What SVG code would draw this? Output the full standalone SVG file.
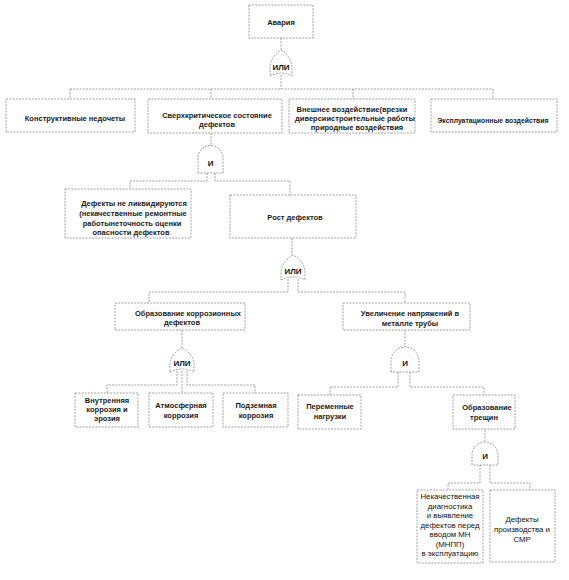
<svg xmlns="http://www.w3.org/2000/svg" width="569" height="580" viewBox="0 0 569 580">
<style>
.b{fill:#fff;stroke:#8a8a8a;stroke-width:0.8;stroke-dasharray:2 1.2}
.c{fill:none;stroke:#8a8a8a;stroke-width:0.8;stroke-dasharray:2 1.2}
.g{fill:#fff;stroke:#8a8a8a;stroke-width:0.8;stroke-dasharray:2 1.2}
.t{font-family:"Liberation Sans",Arial,sans-serif;font-size:7.5px;fill:#1a1a1a;text-anchor:middle;font-weight:bold}
.gt{font-family:"Liberation Sans",Arial,sans-serif;font-size:8px;fill:#111;text-anchor:middle;font-weight:bold}
.n{font-family:"Liberation Sans",Arial,sans-serif;font-size:7.8px;fill:#111;text-anchor:middle}
</style>
<rect width="569" height="580" fill="#fff"/>
<g id="connectors">
<path class="c" d="M281 38V50M281 75V89M70 89H493M70 89V99M211 89V99M353 89V99M493 89V99"/>
<path class="c" d="M211 133V146M207 173V181H130V189M215 173V181H290V195"/>
<path class="c" d="M292 238V255M288 279V292H149V303M298 279V292H405V303"/>
<path class="c" d="M182 330V348M177 371V385H107V393M182 371V393M187 371V385H255V393"/>
<path class="c" d="M405 330V347M398 372V387H330V395M410 372V387H484V395"/>
<path class="c" d="M485 430V442M480 465V483H448V490M490 465V483H530V490"/>
</g>
<g id="n_avaria"><rect class="b" x="249" y="5" width="64" height="33"/><text class="t" x="281" y="25">Авария</text></g>
<g id="gate_or1"><path class="g" d="M270 76Q281 70 292 76V69Q292 57 281 50Q270 57 270 69Z"/><text class="gt" x="281" y="70">ИЛИ</text></g>
<g id="n_konstr"><rect class="b" x="6" y="99" width="129" height="33"/><text class="t" x="75" y="121">Конструктивные недочеты</text></g>
<g id="n_sverh"><rect class="b" x="148" y="99" width="134" height="34"/><text class="t" x="217" y="118">Сверхкритическое состояние</text><text class="t" x="217" y="127">дефектов</text></g>
<g id="n_vnesh"><rect class="b" x="289" y="99" width="126" height="34"/><text class="t" x="352" y="112">Внешнее воздействие(врезки</text><text class="t" x="355" y="121">диверсиистроительные работы</text><text class="t" x="357" y="130">природные воздействия</text></g>
<g id="n_ekspl"><rect class="b" x="431" y="99" width="126" height="33"/><text class="t" x="493" y="123" textLength="111" lengthAdjust="spacingAndGlyphs">Эксплуатационные воздействия</text></g>
<g id="gate_and1"><path class="g" d="M198 173V158A12.5 12.5 0 0 1 223 158V173Z"/><text class="gt" x="210.5" y="166">И</text></g>
<g id="n_defekty"><rect class="b" x="65" y="189" width="126" height="49"/><text class="t" x="134" y="206">Дефекты не ликвидируются</text><text class="t" x="133" y="216">(некачественные ремонтные</text><text class="t" x="132" y="226">работынеточность оценки</text><text class="t" x="131" y="235">опасности дефектов</text></g>
<g id="n_rost"><rect class="b" x="230" y="195" width="126" height="43"/><text class="t" x="295" y="220">Рост дефектов</text></g>
<g id="gate_or2"><path class="g" d="M281 280Q293 274 305 280V273Q305 262 293 255Q281 262 281 273Z"/><text class="gt" x="293" y="274">ИЛИ</text></g>
<g id="n_korr"><rect class="b" x="115" y="303" width="130" height="27"/><text class="t" x="188" y="316">Образование коррозионных</text><text class="t" x="182" y="325">дефектов</text></g>
<g id="n_uvel"><rect class="b" x="343" y="303" width="127" height="27"/><text class="t" x="410" y="316">Увеличение напряжений в</text><text class="t" x="410" y="326">металле трубы</text></g>
<g id="gate_or3"><path class="g" d="M170 372Q182 366 194 372V365Q194 354 182 348Q170 354 170 365Z"/><text class="gt" x="182" y="366">ИЛИ</text></g>
<g id="gate_and2"><path class="g" d="M391 372V361A14 14 0 0 1 419 361V372Z"/><text class="gt" x="405" y="366">И</text></g>
<g id="n_vnutr"><rect class="b" x="75" y="393" width="63" height="34"/><text class="t" x="107" y="403">Внутренняя</text><text class="t" x="107" y="412">коррозия и</text><text class="t" x="107" y="421">эрозия</text></g>
<g id="n_atm"><rect class="b" x="149" y="393" width="64" height="34"/><text class="t" x="181" y="408">Атмосферная</text><text class="t" x="181" y="418">коррозия</text></g>
<g id="n_podz"><rect class="b" x="223" y="393" width="65" height="34"/><text class="t" x="256" y="408">Подземная</text><text class="t" x="256" y="418">коррозия</text></g>
<g id="n_perem"><rect class="b" x="298" y="395" width="63" height="34"/><text class="t" x="330" y="409">Переменные</text><text class="t" x="330" y="419">нагрузки</text></g>
<g id="n_tresh"><rect class="b" x="453" y="395" width="62" height="34"/><text class="t" x="487" y="410">Образование</text><text class="t" x="484" y="420">трещин</text></g>
<g id="gate_and3"><path class="g" d="M472 465V455A13 13 0 0 1 498 455V465Z"/><text class="gt" x="485" y="459">И</text></g>
<g id="n_diag"><rect class="b" x="417" y="490" width="66" height="73"/><text class="n" x="450" y="499">Некачественная</text><text class="n" x="450" y="508.5">диагностика</text><text class="n" x="450" y="518">и выявление</text><text class="n" x="450" y="527.5">дефектов перед</text><text class="n" x="450" y="537">вводом МН</text><text class="n" x="450" y="546.5">(МНПП)</text><text class="n" x="450" y="556">в эксплуатацию</text></g>
<g id="n_proizv"><rect class="b" x="490" y="490" width="65" height="72"/><text class="n" x="522" y="522">Дефекты</text><text class="n" x="522" y="532">производства и</text><text class="n" x="522" y="542">СМР</text></g>
</svg>
